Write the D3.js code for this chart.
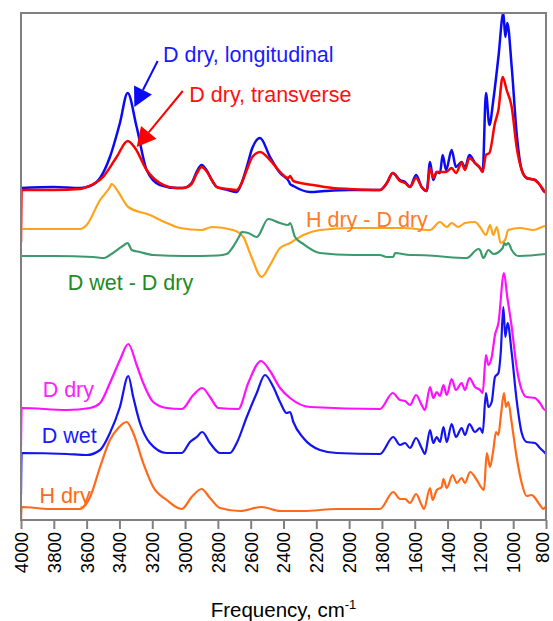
<!DOCTYPE html>
<html>
<head>
<meta charset="utf-8">
<script src="https://cdn.jsdelivr.net/npm/d3@7"></script>
<style>
  body { margin: 0; background: #fff; }
  text { font-family: "Liberation Sans", Arial, sans-serif; }
</style>
</head>
<body>
<div id="graph"></div>
<script>
// IR spectra, offset for clarity; x = frequency (cm-1), y = absorbance + offset
var svgWidth = 553, svgHeight = 621;
var margin = {top: 13, right: 7, bottom: 101, left: 21};

var freqTicks = [4000, 3800, 3600, 3400, 3200, 3000, 2800, 2600, 2400, 2200, 2000, 1800, 1600, 1400, 1200, 1000, 800];

// D dry, longitudinal
var dDryLong = [
  [4000,3.32],[3800,3.33],[3640,3.32],[3579,3.34],[3518,3.42],[3458,3.63],[3397,3.97],[3350,4.27],
  [3295,3.93],[3234,3.50],[3153,3.35],[3050,3.32],[3013,3.32],[2960,3.37],[2930,3.48],[2899,3.55],
  [2870,3.50],[2830,3.38],[2807,3.33],[2740,3.30],[2685,3.28],[2655,3.37],[2624,3.53],[2590,3.72],
  [2543,3.82],[2482,3.63],[2421,3.47],[2365,3.38],[2360,3.36],[2340,3.34],[2238,3.28],[2150,3.29],
  [2000,3.30],[1850,3.30],[1812,3.30],[1770,3.37],[1734,3.47],[1690,3.40],[1659,3.38],[1629,3.33],
  [1592,3.45],[1558,3.33],[1527,3.29],[1507,3.58],[1487,3.40],[1466,3.48],[1446,3.47],[1430,3.65],
  [1409,3.50],[1375,3.70],[1349,3.53],[1314,3.58],[1294,3.52],[1267,3.65],[1233,3.57],[1202,3.52],
  [1186,3.48],[1166,4.27],[1145,3.95],[1121,4.20],[1090,4.63],[1060,5.07],[1048,4.83],[1036,4.97],
  [1009,4.53],[979,3.87],[948,3.50],[918,3.42],[867,3.40],[837,3.35],[806,3.28],[800,3.28]
];

// D dry, transverse
var dDryTrans = [
  [4000,2.78],[3996,3.30],[3800,3.30],[3640,3.31],[3600,3.33],[3500,3.43],[3417,3.63],[3350,3.79],
  [3305,3.72],[3234,3.50],[3153,3.37],[3051,3.32],[3013,3.32],[2960,3.36],[2930,3.46],[2899,3.53],
  [2870,3.49],[2830,3.38],[2807,3.33],[2740,3.31],[2685,3.30],[2655,3.37],[2624,3.50],[2590,3.63],
  [2543,3.68],[2482,3.60],[2421,3.48],[2371,3.42],[2360,3.44],[2340,3.39],[2220,3.35],[2100,3.32],
  [2000,3.31],[1812,3.30],[1770,3.37],[1734,3.47],[1690,3.39],[1659,3.37],[1629,3.33],[1592,3.42],
  [1558,3.33],[1527,3.29],[1507,3.52],[1487,3.42],[1466,3.48],[1430,3.48],[1409,3.48],[1375,3.52],
  [1349,3.47],[1314,3.57],[1294,3.50],[1267,3.62],[1233,3.57],[1202,3.52],[1186,3.48],[1166,3.65],
  [1145,3.67],[1111,3.97],[1090,4.10],[1064,4.43],[1040,4.30],[1009,4.13],[979,3.73],[948,3.50],
  [918,3.42],[867,3.40],[837,3.35],[806,3.28],[800,3.27]
];

// H dry - D dry
var hMinusD = [
  [4000,2.91],[3800,2.91],[3640,2.91],[3600,2.95],[3518,3.20],[3458,3.33],[3448,3.36],[3407,3.28],
  [3346,3.13],[3214,3.05],[3112,2.97],[3031,2.92],[2899,2.90],[2836,2.93],[2708,2.90],[2645,2.83],
  [2600,2.65],[2533,2.43],[2482,2.55],[2421,2.72],[2360,2.77],[2279,2.85],[2178,2.90],[1975,2.92],
  [1672,2.92],[1507,2.90],[1446,2.98],[1405,2.93],[1375,2.97],[1336,2.93],[1294,2.97],[1233,2.98],
  [1202,2.93],[1166,2.85],[1141,2.95],[1121,2.85],[1100,2.93],[1076,2.77],[1050,2.80],[1030,2.90],
  [959,2.92],[877,2.90],[802,2.94],[800,2.94]
];

// D wet - D dry
var wetMinusD = [
  [4000,2.64],[3800,2.64],[3560,2.63],[3493,2.62],[3458,2.65],[3380,2.74],[3350,2.77],[3325,2.70],
  [3275,2.68],[3194,2.65],[3000,2.64],[2800,2.645],[2746,2.66],[2708,2.73],[2665,2.85],[2655,2.88],
  [2615,2.87],[2563,2.83],[2493,3.01],[2421,2.97],[2371,2.95],[2360,2.97],[2330,2.83],[2279,2.76],
  [2178,2.67],[1975,2.65],[1812,2.65],[1771,2.63],[1731,2.63],[1720,2.67],[1629,2.65],[1609,2.65],
  [1466,2.64],[1405,2.63],[1283,2.62],[1212,2.71],[1202,2.70],[1182,2.62],[1151,2.70],[1121,2.66],
  [1064,2.72],[1054,2.77],[1044,2.75],[1030,2.77],[1009,2.70],[969,2.64],[959,2.64],[800,2.66]
];

// D dry
var dDry = [
  [4000,0.74],[3996,1.12],[3721,1.10],[3579,1.12],[3518,1.17],[3458,1.37],[3397,1.60],[3346,1.76],
  [3295,1.55],[3255,1.37],[3194,1.18],[3112,1.12],[3020,1.11],[2950,1.25],[2895,1.32],[2848,1.23],
  [2797,1.12],[2675,1.11],[2615,1.37],[2537,1.59],[2482,1.49],[2421,1.32],[2360,1.22],[2238,1.13],
  [1812,1.11],[1734,1.27],[1690,1.20],[1659,1.19],[1629,1.15],[1592,1.25],[1558,1.15],[1538,1.10],
  [1507,1.33],[1487,1.22],[1466,1.28],[1446,1.24],[1425,1.35],[1405,1.25],[1375,1.41],[1349,1.30],
  [1314,1.37],[1294,1.30],[1267,1.42],[1233,1.33],[1202,1.30],[1186,1.27],[1166,1.65],[1151,1.55],
  [1131,1.63],[1111,1.85],[1090,1.97],[1056,2.47],[1036,2.23],[1009,1.93],[979,1.53],[948,1.30],
  [918,1.23],[867,1.22],[837,1.17],[806,1.10],[800,1.10]
];

// D wet
var dWet = [
  [4000,0.25],[3996,0.67],[3721,0.66],[3600,0.65],[3518,0.70],[3458,0.87],[3397,1.13],[3346,1.44],
  [3316,1.23],[3275,0.97],[3214,0.77],[3112,0.67],[3020,0.67],[2970,0.78],[2929,0.83],[2895,0.88],
  [2848,0.77],[2787,0.67],[2726,0.67],[2685,0.77],[2624,1.03],[2563,1.27],[2513,1.45],[2462,1.33],
  [2421,1.18],[2381,1.07],[2360,1.08],[2340,0.98],[2279,0.82],[2178,0.70],[2076,0.67],[1812,0.66],
  [1731,0.83],[1690,0.75],[1659,0.77],[1629,0.72],[1592,0.82],[1558,0.72],[1538,0.66],[1507,0.90],
  [1487,0.77],[1466,0.83],[1446,0.78],[1425,0.93],[1405,0.78],[1375,0.96],[1349,0.83],[1314,0.92],
  [1294,0.85],[1267,0.96],[1233,0.88],[1202,0.92],[1186,0.87],[1166,1.27],[1151,1.13],[1131,1.18],
  [1111,1.43],[1090,1.47],[1076,1.67],[1060,2.13],[1048,1.83],[1034,1.97],[1009,1.67],[979,1.20],
  [948,0.87],[918,0.78],[867,0.77],[837,0.72],[806,0.67],[800,0.66]
];

// H dry
var hDry = [
  [4000,0.00],[3996,0.13],[3823,0.11],[3640,0.11],[3579,0.23],[3518,0.53],[3458,0.80],[3407,0.92],
  [3356,0.98],[3316,0.87],[3255,0.57],[3194,0.33],[3112,0.20],[3020,0.11],[2960,0.23],[2899,0.31],
  [2848,0.22],[2787,0.12],[2665,0.09],[2533,0.13],[2421,0.09],[2279,0.09],[2076,0.11],[1812,0.11],
  [1731,0.28],[1690,0.21],[1659,0.21],[1629,0.17],[1592,0.26],[1558,0.15],[1544,0.11],[1507,0.32],
  [1491,0.20],[1466,0.30],[1436,0.33],[1425,0.41],[1405,0.32],[1369,0.45],[1344,0.37],[1314,0.42],
  [1294,0.37],[1263,0.48],[1222,0.40],[1192,0.32],[1178,0.30],[1161,0.67],[1141,0.53],[1121,0.70],
  [1105,0.88],[1090,0.85],[1076,1.03],[1056,1.27],[1044,1.13],[1030,1.18],[1009,0.97],[979,0.63],
  [948,0.37],[918,0.24],[887,0.25],[867,0.22],[837,0.15],[816,0.11],[802,0.13],[800,0.13]
];

var series = [
  {name: "D dry, longitudinal", data: dDryLong, color: "#0a0af5", width: 2.5},
  {name: "D dry, transverse", data: dDryTrans, color: "#ff0000", width: 2.5},
  {name: "H dry - D dry", data: hMinusD, color: "#ffa31a", width: 2.2},
  {name: "D wet - D dry", data: wetMinusD, color: "#3d9a6c", width: 2.2},
  {name: "D dry", data: dDry, color: "#ff10ff", width: 2.2},
  {name: "D wet", data: dWet, color: "#1414f0", width: 2.2},
  {name: "H dry", data: hDry, color: "#ff6a1a", width: 2.2}
];

// text labels: [text, freq, value, color]
var labels = [
  ["D dry, longitudinal", 3134, 4.58, "#1a1aff"],
  ["D dry, transverse", 2974, 4.18, "#ff1010"],
  ["H dry - D dry", 2263, 2.93, "#ff7a26"],
  ["D wet - D dry", 3715, 2.30, "#228b22"],
  ["D dry", 3868, 1.23, "#ff20ff"],
  ["D wet", 3874, 0.77, "#1a1aff"],
  ["H dry", 3888, 0.17, "#ff6a1a"]
];

// arrows: [tailFreq, tailVal, tipFreq, tipVal, color]
var arrows = [
  [3167, 4.59, 3309, 4.13, "#0a0af5"],
  [3014, 4.29, 3295, 3.73, "#ff0000"]
];

var svg = d3.select('#graph').append('svg')
  .attr("width", svgWidth)
  .attr("height", svgHeight);
var width = svgWidth - margin.left - margin.right;
var height = svgHeight - margin.top - margin.bottom;

var g = svg.append('g')
  .attr('transform', 'translate(' + margin.left + ',' + margin.top + ')');

var x = d3.scaleLinear().domain([4000, 800]).range([0, width]);
var y = d3.scaleLinear().domain([0, 5.07]).range([height, 0]);

g.append("defs").append("clipPath").attr("id", "clip")
  .append("rect").attr("width", width).attr("height", height);

var line = d3.line()
  .x(function(d) { return x(d[0]); })
  .y(function(d) { return y(d[1]); })
  .curve(d3.curveMonotoneX);

var plot = g.append("g").attr("clip-path", "url(#clip)");

series.forEach(function(s) {
  plot.append("path")
    .datum(s.data)
    .attr("fill", "none")
    .attr("stroke", s.color)
    .attr("stroke-width", s.width)
    .attr("stroke-linejoin", "round")
    .attr("stroke-linecap", "round")
    .attr("d", line);
});

// arrows
arrows.forEach(function(a) {
  var x0 = x(a[0]), y0 = y(a[1]), x1 = x(a[2]), y1 = y(a[3]);
  var dx = x1 - x0, dy = y1 - y0, len = Math.sqrt(dx * dx + dy * dy);
  var ux = dx / len, uy = dy / len;
  var headLen = 19, headW = 10;
  var bx = x1 - ux * headLen, by = y1 - uy * headLen;
  g.append("line")
    .attr("x1", x0).attr("y1", y0).attr("x2", bx).attr("y2", by)
    .attr("stroke", a[4]).attr("stroke-width", 2);
  g.append("path")
    .attr("d", "M" + x1 + "," + y1 +
      "L" + (bx - uy * headW) + "," + (by + ux * headW) +
      "L" + (bx + uy * headW) + "," + (by - ux * headW) + "Z")
    .attr("fill", a[4]);
});

labels.forEach(function(l) {
  g.append("text")
    .attr("x", x(l[1]))
    .attr("y", y(l[2]))
    .attr("fill", l[3])
    .style("font-size", "21.5px")
    .text(l[0]);
});

// frame
g.append("rect")
  .attr("width", width)
  .attr("height", height)
  .attr("fill", "none")
  .attr("stroke", "#808080")
  .attr("stroke-width", 2);

var xAxis = g.append("g")
  .attr("transform", "translate(0," + height + ")")
  .call(d3.axisBottom(x).tickValues(freqTicks).tickSize(9).tickSizeOuter(0).tickFormat(d3.format("d")));
xAxis.select(".domain").remove();
xAxis.selectAll(".tick line").attr("stroke", "#808080").attr("stroke-width", 2);
xAxis.selectAll(".tick text")
  .attr("transform", "rotate(-90)")
  .attr("text-anchor", "end")
  .attr("x", -12)
  .attr("y", function(d) { return d === 800 ? -3.5 : 0; })
  .attr("dy", "0.35em")
  .attr("fill", "#000")
  .style("font-size", "18.5px")
  .style("font-family", "'Liberation Sans', Arial, sans-serif");

var title = svg.append("text")
  .attr("x", margin.left + width / 2)
  .attr("y", 617)
  .attr("text-anchor", "middle")
  .attr("fill", "#000")
  .style("font-size", "20.5px");
title.append("tspan").text("Frequency, cm");
title.append("tspan").attr("dy", "-8").style("font-size", "13px").text("-1");
</script>
</body>
</html>
